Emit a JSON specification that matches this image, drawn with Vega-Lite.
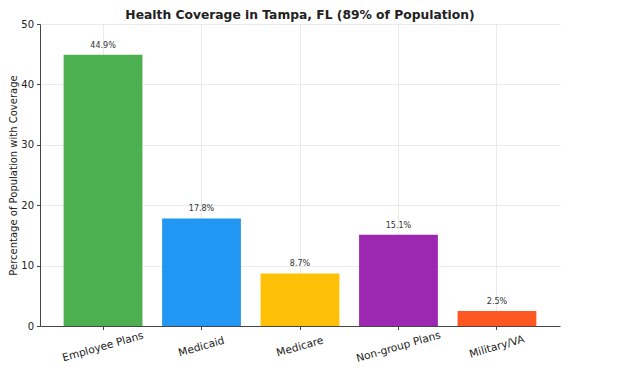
{
  "$schema": "https://vega.github.io/schema/vega-lite/v6.json",
  "autosize": "none",
  "width": 520,
  "height": 302,
  "padding": {"left": 40, "top": 24, "right": 77, "bottom": 42},
  "background": "white",
  "config": {"view": {"stroke": null}, "font": "DejaVu Sans"},
  "title": {"text": "Health Coverage in Tampa, FL (89% of Population)", "font": "DejaVu Sans", "fontSize": 12.3, "fontWeight": "bold", "color": "#222222", "offset": -2, "anchor": "middle"},
  "data": {"values": [
    {"category": "Employee Plans", "pct": 44.9, "label": "44.9%", "color": "#4CAF50"},
    {"category": "Medicaid", "pct": 17.8, "label": "17.8%", "color": "#2196F3"},
    {"category": "Medicare", "pct": 8.7, "label": "8.7%", "color": "#FFC107"},
    {"category": "Non-group Plans", "pct": 15.1, "label": "15.1%", "color": "#9C27B0"},
    {"category": "Military/VA", "pct": 2.5, "label": "2.5%", "color": "#FF5722"}
  ]},
  "encoding": {
    "x": {"field": "category", "type": "nominal", "sort": null,
      "scale": {"paddingInner": 0.2, "paddingOuter": 0.24},
      "axis": {"title": null, "labelAngle": -16, "labelAlign": "center", "labelBaseline": "middle", "labelFontSize": 10.6, "labelColor": "#222222", "labelPadding": 17, "bandPosition": 0.5, "grid": true, "gridColor": "#e4e4e4", "gridWidth": 0.8, "domainColor": "#444444", "tickColor": "#444444", "tickSize": 3.5, "labelFont": "DejaVu Sans"}},
    "y": {"field": "pct", "type": "quantitative",
      "scale": {"domain": [0, 50], "nice": false},
      "axis": {"title": "Percentage of Population with Coverage", "titleFontSize": 10, "titleFontWeight": "normal", "titleColor": "#222222", "titlePadding": 2, "titleFont": "DejaVu Sans", "values": [0, 10, 20, 30, 40, 50], "labelFontSize": 10, "labelColor": "#222222", "labelPadding": 3, "grid": true, "gridColor": "#e4e4e4", "gridWidth": 0.8, "domainColor": "#444444", "tickColor": "#444444", "tickSize": 3.5, "labelFont": "DejaVu Sans"}}
  },
  "layer": [
    {"mark": {"type": "bar"}, "encoding": {"color": {"field": "color", "type": "nominal", "scale": null}}},
    {"mark": {"type": "text", "dy": -9, "fontSize": 8, "color": "#333333", "font": "DejaVu Sans"},
     "encoding": {"text": {"field": "label", "type": "nominal"}}}
  ]
}
